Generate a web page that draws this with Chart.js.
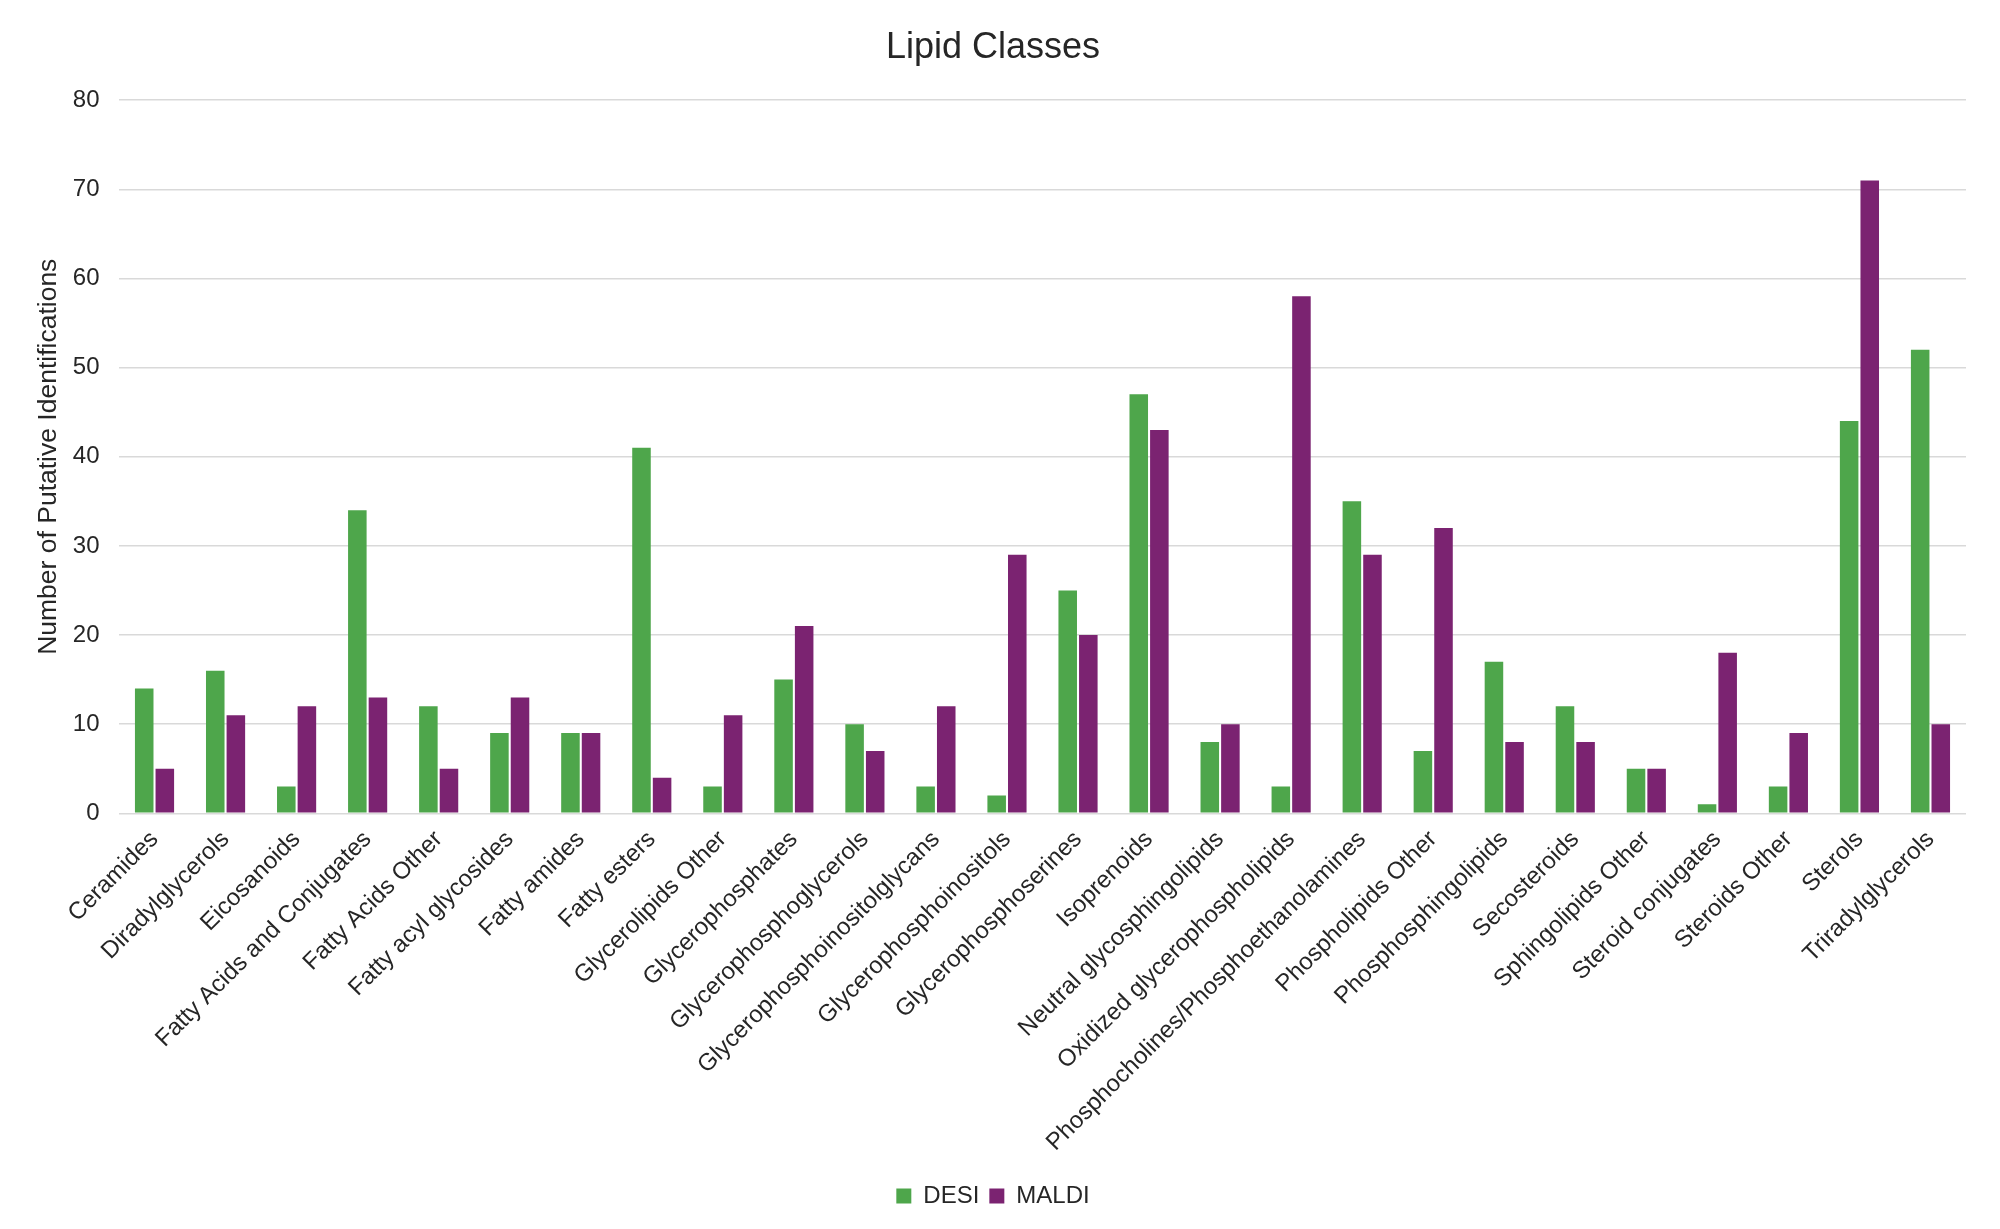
<!DOCTYPE html>
<html>
<head>
<meta charset="utf-8">
<script src="https://cdn.jsdelivr.net/npm/chart.js@4"></script>
<style>
html,body{margin:0;padding:0;background:#fff;}
#wrap{width:2000px;height:1229px;}
</style>
</head>
<body>
<div id="wrap"><canvas id="c" width="2000" height="1229"></canvas></div>
<script>
const categories = ["Ceramides","Diradylglycerols","Eicosanoids","Fatty Acids and Conjugates","Fatty Acids Other","Fatty acyl glycosides","Fatty amides","Fatty esters","Glycerolipids Other","Glycerophosphates","Glycerophosphoglycerols","Glycerophosphoinositolglycans","Glycerophosphoinositols","Glycerophosphoserines","Isoprenoids","Neutral glycosphingolipids","Oxidized glycerophospholipids","Phosphocholines/Phosphoethanolamines","Phospholipids Other","Phosphosphingolipids","Secosteroids","Sphingolipids Other","Steroid conjugates","Steroids Other","Sterols","Triradylglycerols"];
const desi  = [14,16,3,34,12,9,9,41,3,15,10,3,2,25,47,8,3,35,7,17,12,5,1,3,44,52];
const maldi = [5,11,12,13,5,13,9,4,11,21,7,12,29,20,43,10,58,29,32,8,8,5,18,9,71,10];
const yTicks = [0,10,20,30,40,50,60,70,80];

const FONT = "'Liberation Sans', Arial, sans-serif";
const TXT = '#262626';

new Chart(document.getElementById('c'), {
  type: 'bar',
  data: {
    labels: categories,
    datasets: [
      {label:'DESI', data:desi, backgroundColor:'#4EA64B', categoryPercentage:0.58, barPercentage:0.9},
      {label:'MALDI', data:maldi, backgroundColor:'#7B2371', categoryPercentage:0.58, barPercentage:0.9}
    ]
  },
  options: {
    responsive:false,
    animation:false,
    devicePixelRatio:1,
    layout:{padding:{left:20,right:34,top:14,bottom:11}},
    plugins:{
      title:{display:true,text:'Lipid Classes',color:TXT,font:{family:FONT,size:36,weight:'normal'},padding:{top:12,bottom:31}},
      legend:{position:'bottom',labels:{color:TXT,font:{family:FONT,size:24},boxWidth:15,boxHeight:15,padding:10}},
      tooltip:{enabled:false}
    },
    scales:{
      x:{
        grid:{display:false},
        border:{display:false},
        ticks:{color:TXT,font:{family:FONT,size:24},maxRotation:45,minRotation:45,autoSkip:false,padding:4},
        afterFit:(ax)=>{ax.paddingLeft = 0; ax.height += 13;}
      },
      y:{
        min:0,max:80,
        afterBuildTicks:(ax)=>{ax.ticks = yTicks.map(v=>({value:v}));},
        afterFit:(ax)=>{ax.width = 99;},
        grid:{color:'#d9d9d9',lineWidth:1.5,drawTicks:false},
        border:{display:false},
        ticks:{color:TXT,font:{family:FONT,size:24},padding:19.5},
        title:{display:true,text:'Number of Putative Identifications',color:TXT,font:{family:FONT,size:26.5},padding:{top:13,bottom:0}}
      }
    }
  }
});
</script>
</body>
</html>
